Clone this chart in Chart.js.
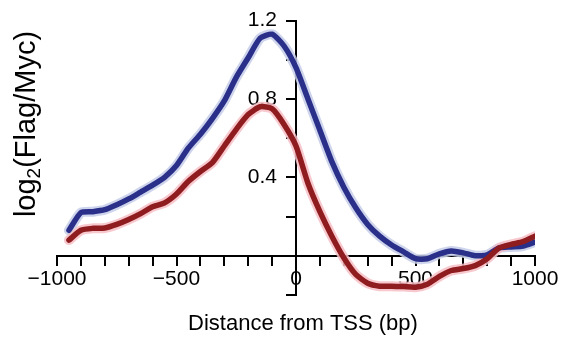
<!DOCTYPE html>
<html>
<head>
<meta charset="utf-8">
<script src="https://cdn.jsdelivr.net/npm/chart.js@4/dist/chart.umd.min.js"></script>
<style>
  html, body { margin: 0; padding: 0; background: #fff; }
  #wrap { width: 564px; height: 339px; }
</style>
</head>
<body>
<div id="wrap"><canvas id="c" width="564" height="339"></canvas></div>
<script>
// 数据：距离 TSS (bp)
const positions = [
  -950, -900, -850, -800, -750, -700, -650, -600, -550, -500,
  -450, -400, -350, -300, -250, -200, -150, -100, -50, 0,
  50, 100, 150, 200, 250, 300, 350, 400, 450, 500,
  550, 600, 650, 700, 750, 800, 850, 900, 950, 1000
];

// 蓝色曲线
const blueValues = [
  0.13, 0.22, 0.225, 0.235, 0.26, 0.29, 0.325, 0.36, 0.40, 0.46,
  0.55, 0.62, 0.70, 0.79, 0.91, 1.01, 1.11, 1.13, 1.07, 0.96,
  0.80, 0.64, 0.48, 0.35, 0.245, 0.16, 0.10, 0.055, 0.02, -0.015,
  -0.015, 0.01, 0.025, 0.015, 0.0, 0.005, 0.04, 0.045, 0.05, 0.07
];

// 红色曲线
const redValues = [
  0.08, 0.13, 0.14, 0.142, 0.16, 0.185, 0.215, 0.25, 0.27, 0.315,
  0.38, 0.43, 0.475, 0.56, 0.645, 0.72, 0.76, 0.75, 0.67, 0.56,
  0.37, 0.225, 0.10, -0.01, -0.095, -0.14, -0.155, -0.155, -0.157, -0.16,
  -0.145, -0.105, -0.075, -0.065, -0.05, -0.015, 0.04, 0.058, 0.072, 0.10
];

// 刻度标签
const xLabelTicks = [-1000, -500, 0, 500, 1000];
const yLabelTicks = ['0.4', '0.8', '1.2'];

const FONT = "'Liberation Sans', Arial, Helvetica, sans-serif";

function toPoints(values) {
  return positions.map((x, i) => ({ x: x, y: values[i] }));
}

function lineSet(values, color, width, order) {
  return {
    data: toPoints(values),
    borderColor: color,
    borderWidth: width,
    pointRadius: 0,
    tension: 0.2,
    fill: false,
    order: order,
    borderCapStyle: 'round',
    borderJoinStyle: 'round'
  };
}

// 轴标题（带下标）
const titlePlugin = {
  id: 'axisTitles',
  afterDraw(chart) {
    const ctx = chart.ctx;
    ctx.save();
    ctx.fillStyle = '#000';

    // x 轴标题
    ctx.font = '22px ' + FONT;
    ctx.textAlign = 'center';
    ctx.textBaseline = 'alphabetic';
    ctx.fillText('Distance from TSS (bp)', 303, 330);

    // y 轴标题: log2(Flag/Myc)
    const big = '29px ' + FONT;
    const small = '19px ' + FONT;
    ctx.font = big;
    const w1 = ctx.measureText('log').width;
    const w3 = ctx.measureText('(Flag/Myc)').width;
    ctx.font = small;
    const w2 = ctx.measureText('2').width;
    const total = w1 + w2 + w3;

    ctx.translate(35, 124);
    ctx.rotate(-Math.PI / 2);
    ctx.textAlign = 'left';
    let x = -total / 2;
    ctx.font = big;
    ctx.fillText('log', x, 0);
    x += w1;
    ctx.font = small;
    ctx.fillText('2', x, 5);
    x += w2;
    ctx.font = big;
    ctx.fillText('(Flag/Myc)', x, 0);
    ctx.restore();
  }
};

new Chart(document.getElementById('c'), {
  type: 'line',
  data: {
    datasets: [
      lineSet(blueValues, 'rgba(196, 205, 232, 0.85)', 10, 4),
      lineSet(redValues, 'rgba(246, 190, 196, 0.85)', 10, 3),
      lineSet(blueValues, '#2a2f89', 5.5, 2),
      lineSet(redValues, '#8f1d20', 5.5, 1)
    ]
  },
  options: {
    responsive: false,
    animation: false,
    events: [],
    layout: { padding: { left: 57, right: 29, top: 15, bottom: 44 } },
    plugins: { legend: { display: false }, tooltip: { enabled: false } },
    scales: {
      x: {
        type: 'linear',
        position: { y: 0 },
        min: -1000,
        max: 1000,
        grid: { drawOnChartArea: false, drawTicks: true, tickLength: 9, color: '#000', lineWidth: 2 },
        border: { display: true, color: '#000', width: 2 },
        ticks: {
          stepSize: 100,
          autoSkip: false,
          maxRotation: 0,
          padding: 4,
          color: '#000',
          font: { family: FONT, size: 21, lineHeight: 1 },
          callback: v => xLabelTicks.includes(v) ? String(v).replace('-', '\u2212') : ''
        }
      },
      y: {
        type: 'linear',
        // x 轴左右对称，中心就是 x = 0
        position: 'center',
        min: -0.2,
        max: 1.2,
        grid: { drawOnChartArea: false, drawTicks: true, tickLength: 9, color: '#000', lineWidth: 2 },
        border: { display: true, color: '#000', width: 2 },
        ticks: {
          stepSize: 0.2,
          autoSkip: false,
          padding: 10,
          color: '#000',
          font: { family: FONT, size: 21, lineHeight: 1 },
          callback: v => {
            const s = (Math.round(v * 10) / 10).toFixed(1);
            return yLabelTicks.includes(s) ? s : '';
          }
        }
      }
    }
  },
  plugins: [titlePlugin]
});
</script>
</body>
</html>
